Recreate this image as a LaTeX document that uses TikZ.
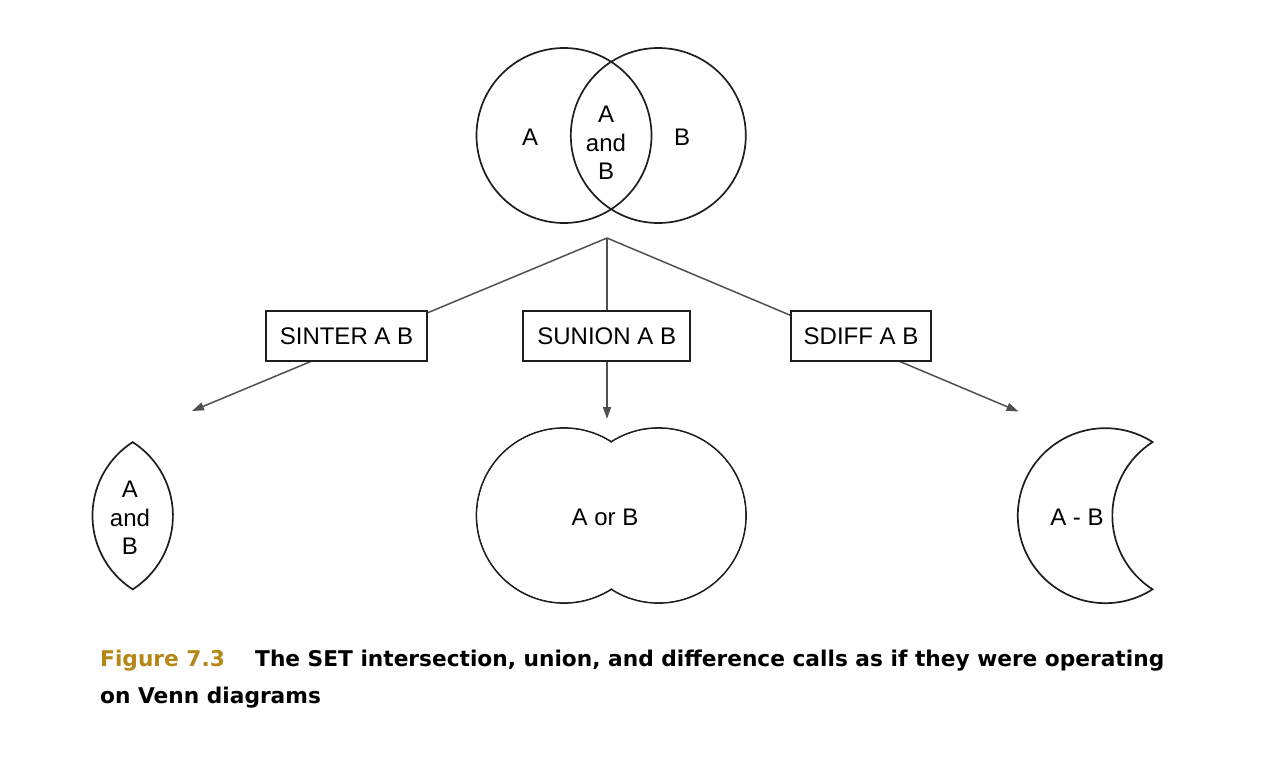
\documentclass[tikz,border=0pt]{standalone}
\usepackage{fontspec}
\setmainfont{Liberation Sans}
\newfontfamily\capfont{DejaVu Sans}
\usetikzlibrary{arrows.meta}
\definecolor{figgold}{RGB}{181,135,22}
\definecolor{lineg}{RGB}{80,80,80}
\definecolor{shapeg}{RGB}{30,30,30}
\tikzset{
  shp/.style={draw=shapeg, line width=1.7pt},
  conn/.style={draw=lineg, line width=1.5pt, -{Triangle[length=12pt,width=8pt]}},
  opbox/.style={draw=shapeg, line width=1.5pt, fill=white, minimum height=50pt, inner sep=0pt, font=\fontsize{24}{28}\selectfont},
  lbl/.style={inner sep=0pt, font=\fontsize{24}{28.5}\selectfont, align=center},
  captxt/.style={inner sep=0pt, anchor=base west, font=\capfont\bfseries\fontsize{21.7}{26}\selectfont}
}
\begin{document}
\begin{tikzpicture}[x=1pt,y=-1pt]
\useasboundingbox (0,0) rectangle (1274,766);
% top Venn diagram
\node[shp, circle, minimum size=175pt, inner sep=0pt] (vA) at (564,135.5) {};
\node[shp, circle, minimum size=175pt, inner sep=0pt] (vB) at (658.3,135.5) {};
\node[lbl] (tA) at (530,137) {A};
\node[lbl] (tB) at (682,137) {B};
\node[lbl] (tAB) at (606,143) {A\\and\\B};
% connectors
\coordinate (apex) at (607,238);
\coordinate (tipL) at (192,411);
\coordinate (tipM) at (607,419);
\coordinate (tipR) at (1018.5,411.5);
\draw[conn] (apex) -- (tipL);
\draw[conn] (apex) -- (tipM);
\draw[conn] (apex) -- (tipR);
% operation boxes
\node[opbox, minimum width=161pt] (sinter) at (346.5,336) {SINTER A B};
\node[opbox, minimum width=167pt] (sunion) at (606.7,336) {SUNION A B};
\node[opbox, minimum width=140pt] (sdiff) at (861,336) {SDIFF A B};
% intersection lens
\draw[shp] (132.7,442.1) arc[start angle=302.7, end angle=417.3, radius=87.5]
  arc[start angle=122.7, end angle=237.3, radius=87.5] -- cycle;
\node[lbl] (lensT) at (130,518) {A\\and\\B};
% union
\draw[shp] (564,515.5) circle (87.5);
\draw[shp] (658.5,515.5) circle (87.5);
\fill[white] (564,515.5) circle (86.6);
\fill[white] (658.5,515.5) circle (86.6);
\node[lbl] (unT) at (605,517) {A or B};
% difference crescent
\draw[shp] (1152.55,589.3) arc[start angle=57.3, end angle=302.7, radius=87.5]
  arc[start angle=237.3, end angle=122.7, radius=87.5] -- cycle;
\node[lbl] (dfT) at (1077,517) {A - B};
% caption
\node[captxt, text=figgold] (fig) at (100,666.7) {Figure 7.3};
\node[captxt] (cap1) at (255,666.7) {The SET intersection, union, and difference calls as if they were operating};
\node[captxt] (cap2) at (100,703) {on Venn diagrams};
\end{tikzpicture}
\end{document}
